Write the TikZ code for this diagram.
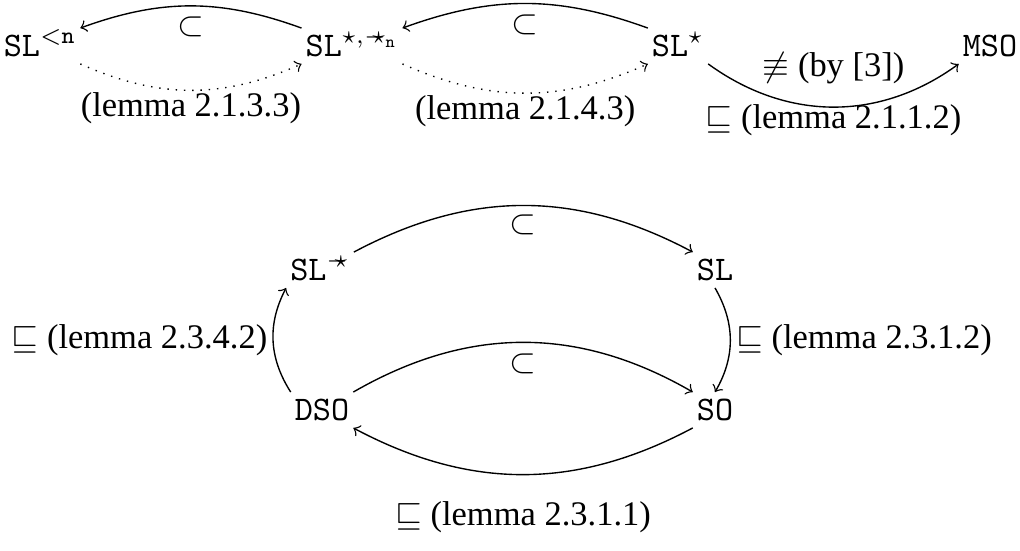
\documentclass[tikz,border=0pt]{standalone}
\usepackage{amsmath}
\usepackage{amssymb}
\usepackage{fontspec}
\setmainfont{Liberation Serif}

\tikzset{
  obj/.style={inner sep=1pt,text height=7pt,text depth=1pt},
  incl/.style={->,thin},
  lem/.style={->,thin,dotted},
  lbl/.style={inner sep=0.5pt}
}
\newcommand{\wand}{\mathrel{-}\mkern-9mu\star}

\begin{document}
\begin{tikzpicture}[x=0.29pt,y=0.29pt]
  \useasboundingbox (0,0) rectangle (1020,-551);
  % top row
  \node[obj] (sln) at (40,-46) {\texttt{SL}$^{\mathtt{<n}}$};
  \node[obj] (slsw) at (352,-46) {\texttt{SL}$^{\star,\wand_{\mathtt{n}}}$};
  \node[obj] (sls) at (678,-46) {\texttt{SL}$^{\star}$};
  \node[obj] (mso) at (990,-46) {\texttt{MSO}};
  \draw[incl] (slsw.north west) to[bend right=20]
    node[lbl,midway,below=2.5pt] {$\subset$} (sln.north east);
  \draw[lem] (sln.south east) to[bend right=24]
    node[lbl,midway,below=0pt] {(lemma 2.1.3.3)} (slsw.south west);
  \draw[incl] (sls.north west) to[bend right=20]
    node[lbl,midway,below=2.5pt] {$\subset$} (slsw.north east);
  \draw[lem] (slsw.south east) to[bend right=24]
    node[lbl,midway,below=0pt] {(lemma 2.1.4.3)} (sls.south west);
  \draw[incl] (sls.south east) to[bend right=36]
    node[lbl,midway,above=6pt] {$\not\equiv$ (by [3])}
    node[lbl,midway,below=-1.5pt] {$\sqsubseteq$ (lemma 2.1.1.2)} (mso.south west);
  % bottom square
  \node[obj] (slw) at (320,-270) {\texttt{SL}$^{\wand}$};
  \node[obj] (sl) at (715,-270) {\texttt{SL}};
  \node[obj] (dso) at (322,-410) {\texttt{DSO}};
  \node[obj] (so) at (715,-410) {\texttt{SO}};
  \draw[incl] (slw.north east) to[bend left=28]
    node[lbl,midway,below=2pt] {$\subset$} (sl.north west);
  \draw[incl] (dso.north east) to[bend left=30]
    node[lbl,midway,below=2.5pt] {$\subset$} (so.north west);
  \draw[incl] (so.south west) to[bend left=28]
    node[lbl,midway,below=7pt] {$\sqsubseteq$ (lemma 2.3.1.1)} (dso.south east);
  \draw[incl] (sl.south) to[bend left=30]
    node[lbl,midway,right=1pt] {$\sqsubseteq$ (lemma 2.3.1.2)} (so.north);
  \draw[incl] (dso.north west) to[bend left=30]
    node[lbl,midway,left=1pt] {$\sqsubseteq$ (lemma 2.3.4.2)} (slw.south west);
\end{tikzpicture}
\end{document}
